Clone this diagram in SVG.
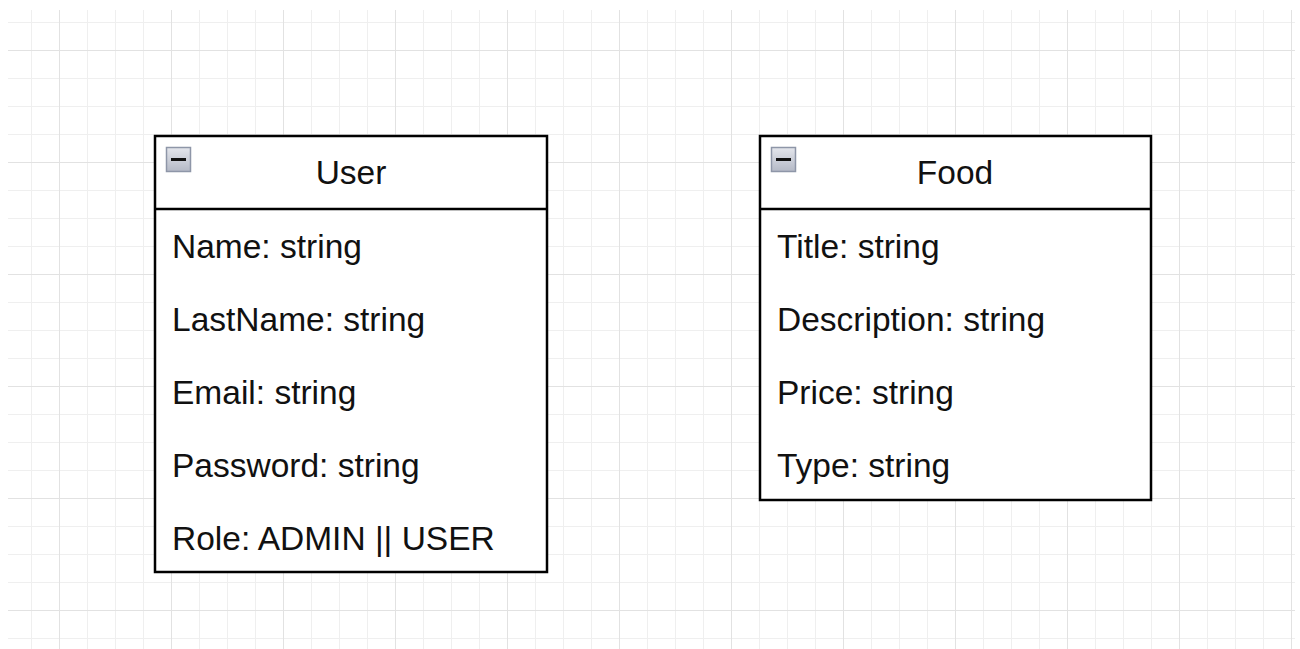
<svg xmlns="http://www.w3.org/2000/svg" width="1300" height="649" viewBox="0 0 1300 649">
  <defs>
    <pattern id="minor" x="3" y="22" width="28" height="28" patternUnits="userSpaceOnUse">
      <path d="M0 0.5H28M0.5 0V28" fill="none" stroke="#efefef" stroke-width="1"/>
    </pattern>
    <pattern id="major" x="59" y="50" width="112" height="112" patternUnits="userSpaceOnUse">
      <path d="M0 0.5H112M0.5 0V112" fill="none" stroke="#e2e2e2" stroke-width="1"/>
    </pattern>
    <linearGradient id="icong" x1="0" y1="0" x2="0" y2="1">
      <stop offset="0" stop-color="#e4e6ec"/>
      <stop offset="1" stop-color="#b4b9c6"/>
    </linearGradient>
    <g id="collapse">
      <rect x="0.5" y="0.5" width="24" height="24" fill="url(#icong)" stroke="#8e96a8" stroke-width="1.5"/>
      <rect x="5" y="11" width="15" height="3" fill="#111"/>
    </g>
  </defs>
  <style>
    .box { fill: #ffffff; stroke: #000000; stroke-width: 2.5; }
    .sep { stroke: #000000; stroke-width: 2.5; }
    .t { font-family: "Liberation Sans", Arial, sans-serif; font-size: 33.5px; fill: #111111; }
    .h { text-anchor: middle; }
  </style>
  <rect width="1300" height="649" fill="#ffffff"/>
  <rect x="8" y="10" width="1287" height="639" fill="url(#minor)"/>
  <rect x="8" y="10" width="1287" height="639" fill="url(#major)"/>

  <g id="connectors"></g>

  <g id="user">
    <rect class="box" x="155" y="136" width="392" height="436"/>
    <line class="sep" x1="155" y1="209" x2="547" y2="209"/>
    <use href="#collapse" x="166" y="147"/>
    <text class="t h" x="351" y="184">User</text>
    <text class="t" x="172" y="258">Name: string</text>
    <text class="t" x="172" y="331">LastName: string</text>
    <text class="t" x="172" y="404">Email: string</text>
    <text class="t" x="172" y="477">Password: string</text>
    <text class="t" x="172" y="550">Role: ADMIN || USER</text>
  </g>

  <g id="food">
    <rect class="box" x="760" y="136" width="391" height="364"/>
    <line class="sep" x1="760" y1="209" x2="1151" y2="209"/>
    <use href="#collapse" x="771" y="147"/>
    <text class="t h" x="955" y="184">Food</text>
    <text class="t" x="777" y="258">Title: string</text>
    <text class="t" x="777" y="331">Description: string</text>
    <text class="t" x="777" y="404">Price: string</text>
    <text class="t" x="777" y="477">Type: string</text>
  </g>
</svg>
